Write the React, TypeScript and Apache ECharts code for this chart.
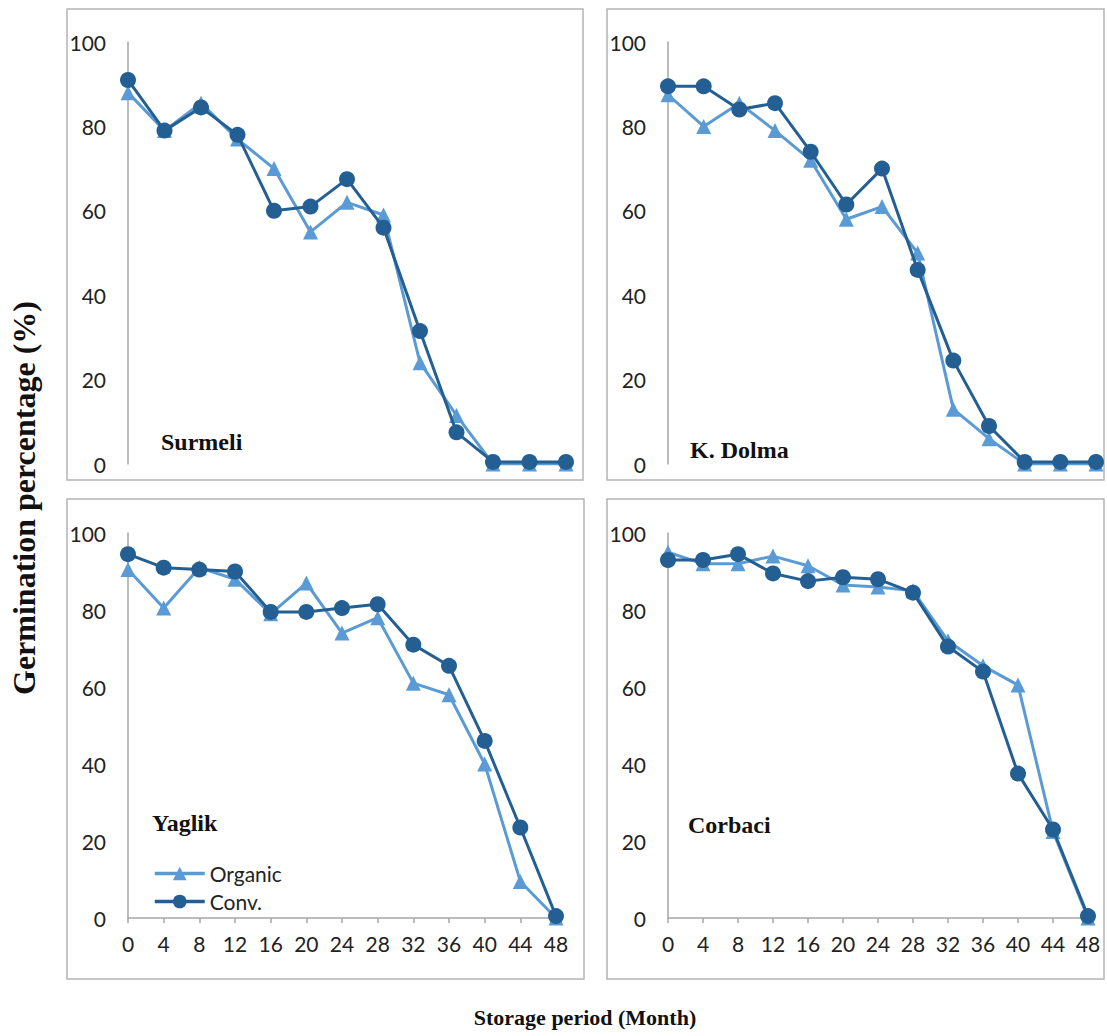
import React, { useEffect, useRef } from "react";
import * as echarts from "echarts";

const months = [0, 4, 8, 12, 16, 20, 24, 28, 32, 36, 40, 44, 48];
const yTicks = [0, 20, 40, 60, 80, 100];

const surmeliOrganic = [88, 79, 85.5, 77, 70, 55, 62, 59, 24, 11.5, 0, 0, 0];
const surmeliConv = [91, 79, 84.5, 78, 60, 61, 67.5, 56, 31.5, 7.5, 0.5, 0.5, 0.5];
const dolmaOrganic = [87.5, 80, 85.5, 79, 72, 58, 61, 50, 13, 6, 0, 0, 0];
const dolmaConv = [89.5, 89.5, 84, 85.5, 74, 61.5, 70, 46, 24.5, 9, 0.5, 0.5, 0.5];
const yaglikOrganic = [90.5, 80.5, 91, 88, 79, 87, 74, 78, 61, 58, 40, 9.5, 0];
const yaglikConv = [94.5, 91, 90.5, 90, 79.5, 79.5, 80.5, 81.5, 71, 65.5, 46, 23.5, 0.5];
const corbaciOrganic = [95, 92, 92, 94, 91.5, 86.5, 86, 85, 72, 65.5, 60.5, 22.5, 0];
const corbaciConv = [93, 93, 94.5, 89.5, 87.5, 88.5, 88, 84.5, 70.5, 64, 37.5, 23, 0.5];

const panelNames = ["Surmeli", "K. Dolma", "Yaglik", "Corbaci"];
const seriesNames = ["Organic", "Conv."];
const xTitle = "Storage period (Month)";
const yTitle = "Germination percentage (%)";

const ORG = "#5B9BD5";
const CONV = "#245F93";

export default function App() {
  const ref = useRef<HTMLDivElement>(null);
  useEffect(() => {
    if (!ref.current) return;
    const chart = echarts.init(ref.current, null, { renderer: "svg" });
    const panelData = [
      [surmeliOrganic, surmeliConv],
      [dolmaOrganic, dolmaConv],
      [yaglikOrganic, yaglikConv],
      [corbaciOrganic, corbaciConv],
    ];
    const grids = [
      { left: 128, top: 42, width: 438, height: 422 },
      { left: 668, top: 42, width: 428, height: 422 },
      { left: 128, top: 533, width: 428, height: 385 },
      { left: 668, top: 533, width: 420, height: 385 },
    ];
    const boxes = [
      { x: 67, y: 9, w: 516, h: 471 },
      { x: 607, y: 9, w: 497, h: 471 },
      { x: 67, y: 499, w: 517, h: 480 },
      { x: 607, y: 499, w: 497, h: 480 },
    ];
    const titlePos = [
      { x: 161, y: 442 },
      { x: 690, y: 450 },
      { x: 152, y: 823 },
      { x: 688, y: 825 },
    ];
    const labelFont = { fontFamily: "Lato", fontSize: 21, color: "#222" };
    const xAxis = grids.map((_, i) => {
      const bottom = i >= 2;
      return {
        type: "value",
        gridIndex: i,
        min: 0,
        max: 48,
        interval: 4,
        axisLine: { show: bottom, lineStyle: { color: "#a6a6a6", width: 1.5 } },
        axisTick: { show: bottom, length: 5, lineStyle: { color: "#a6a6a6", width: 1.5 } },
        axisLabel: { show: bottom, margin: 15, ...labelFont },
        splitLine: { show: false },
      };
    });
    const yAxis = grids.map((_, i) => ({
      type: "value",
      gridIndex: i,
      min: yTicks[0],
      max: yTicks[yTicks.length - 1],
      interval: 20,
      axisLine: { show: true, lineStyle: { color: "#a6a6a6", width: 1.5 } },
      axisTick: { show: false },
      axisLabel: { margin: 22, ...labelFont },
      splitLine: { show: false },
    }));
    const series: any[] = [];
    panelData.forEach((pair, i) => {
      series.push({
        type: "line",
        name: seriesNames[0],
        xAxisIndex: i,
        yAxisIndex: i,
        data: months.map((m, k) => [m, pair[0][k]]),
        symbol: "triangle",
        symbolSize: 15,
        lineStyle: { color: ORG, width: 3 },
        itemStyle: { color: ORG },
        z: 2,
      });
      series.push({
        type: "line",
        name: seriesNames[1],
        xAxisIndex: i,
        yAxisIndex: i,
        data: months.map((m, k) => [m, pair[1][k]]),
        symbol: "circle",
        symbolSize: 16,
        lineStyle: { color: CONV, width: 3 },
        itemStyle: { color: CONV },
        z: 3,
      });
    });
    const graphic: any[] = [];
    boxes.forEach((b) => {
      graphic.push({
        type: "rect",
        shape: { x: b.x, y: b.y, width: b.w, height: b.h },
        style: { fill: "none", stroke: "#b4b4b4", lineWidth: 1.5 },
        silent: true,
      });
    });
    panelNames.forEach((n, i) => {
      graphic.push({
        type: "text",
        x: titlePos[i].x,
        y: titlePos[i].y,
        style: {
          text: n,
          font: "bold 24px 'Liberation Serif'",
          fill: "#111",
          textVerticalAlign: "middle",
        },
      });
    });
    graphic.push({
      type: "text",
      x: 585,
      y: 1017,
      style: {
        text: xTitle,
        font: "bold 22px 'Liberation Serif'",
        fill: "#111",
        textAlign: "center",
        textVerticalAlign: "middle",
      },
    });
    graphic.push({
      type: "text",
      x: 24,
      y: 498,
      rotation: Math.PI / 2,
      style: {
        text: yTitle,
        font: "bold 32px 'Liberation Serif'",
        fill: "#111",
        textAlign: "center",
        textVerticalAlign: "middle",
      },
    });
    chart.setOption({
      animation: false,
      backgroundColor: "#fff",
      grid: grids.map((g) => ({ ...g, containLabel: false })),
      xAxis,
      yAxis,
      series,
      legend: {
        data: seriesNames,
        orient: "vertical",
        left: 148,
        top: 858,
        itemWidth: 50,
        itemHeight: 17,
        itemGap: 7,
        lineStyle: { width: 3.5 },
        textStyle: { fontFamily: "Lato", fontSize: 21, color: "#222" },
      },
      graphic,
    });
    return () => chart.dispose();
  }, []);
  return (
    <div
      ref={ref}
      style={{ position: "fixed", left: 0, top: 0, width: 1107, height: 1036 }}
    />
  );
}
